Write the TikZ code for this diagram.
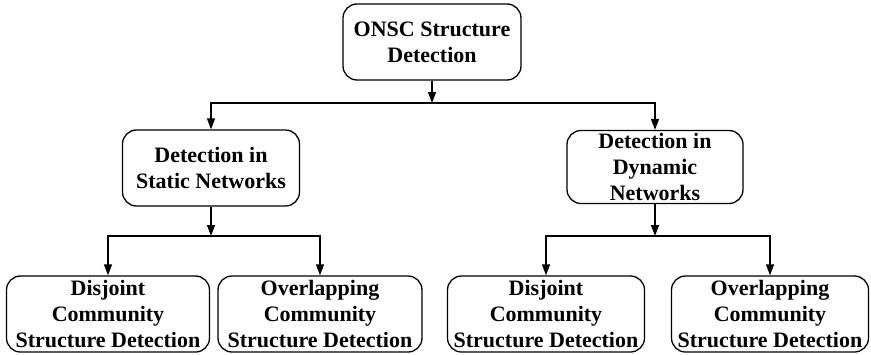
\documentclass[tikz,border=0pt]{standalone}
\usepackage{fontspec}
\setmainfont{Liberation Serif}
\usetikzlibrary{arrows.meta}

\begin{document}
\begin{tikzpicture}[x=1pt,y=1pt,
  box/.style={draw,line width=1.3pt,rounded corners=14pt,align=center,
    inner sep=0pt,font=\fontsize{22}{26}\selectfont\bfseries},
  arr/.style={line width=1.3pt,-{Triangle[length=11pt,width=8pt]}}]
\useasboundingbox (0,0) rectangle (871,-354);
\node[box,minimum width=178pt,minimum height=76pt] (onsc) at (432,-42) {ONSC Structure\\Detection};
\node[box,minimum width=177pt,minimum height=76pt] (static) at (211,-168) {Detection in\\Static Networks};
\node[box,minimum width=176pt,minimum height=73pt] (dynamic) at (655,-167) {Detection in\\Dynamic\\Networks};
\node[box,minimum width=203pt,minimum height=76pt] (sdis) at (108,-314) {Disjoint\\Community\\Structure Detection};
\node[box,minimum width=204pt,minimum height=76pt] (sovl) at (320,-314) {Overlapping\\Community\\Structure Detection};
\node[box,minimum width=197pt,minimum height=76pt] (ddis) at (546,-314) {Disjoint\\Community\\Structure Detection};
\node[box,minimum width=197pt,minimum height=76pt] (dovl) at (770,-314) {Overlapping\\Community\\Structure Detection};
% branch points
\coordinate (j0) at (onsc.south |- 0,-103);
\coordinate (j1) at (static.south |- 0,-236);
\coordinate (j2) at (dynamic.south |- 0,-236);
\draw[arr] (onsc.south) -- (j0);
\draw[arr] (j0) -| (static.north);
\draw[arr] (j0) -| (dynamic.north);
\draw[arr] (static.south) -- (j1);
\draw[arr] (j1) -| (sdis.north);
\draw[arr] (j1) -| (sovl.north);
\draw[arr] (dynamic.south) -- (j2);
\draw[arr] (j2) -| (ddis.north);
\draw[arr] (j2) -| (dovl.north);
\end{tikzpicture}
\end{document}
